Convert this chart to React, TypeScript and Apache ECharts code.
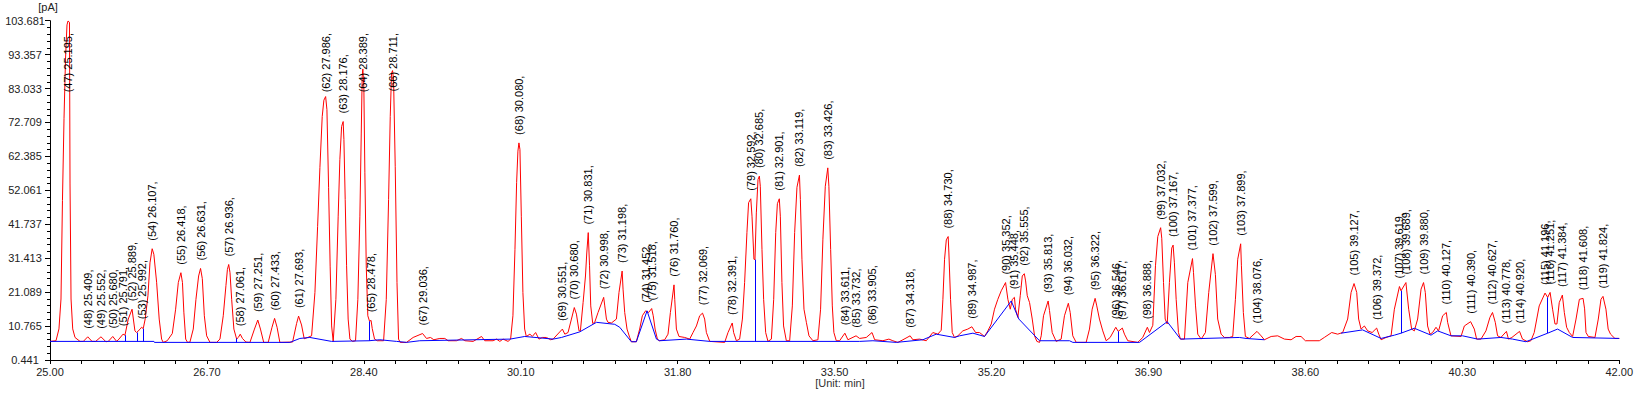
import React, { useEffect, useRef } from "react";
import * as echarts from "echarts";

// Retention time axis (min) and signal axis (pA)
const xMin = 25.0;
const xMax = 42.0;
const xInterval = 1.7;
const yMin = 0.441;
const yMax = 103.681;
const yInterval = 10.324;

// Detector trace (time, pA)
const trace: [number, number][] = [
  [25.000,6.1],[25.065,6.3],[25.097,9.9],[25.119,19],[25.135,49],[25.152,74],[25.168,92],[25.184,102.4],[25.195,103.6],[25.211,103.2],[25.217,54],[25.228,19],[25.246,9.9],[25.271,7.3],[25.325,6.1],
  [25.361,6.1],[25.409,7.5],[25.455,6.1],[25.495,6.1],[25.552,7.5],[25.606,6.0],[25.631,6.1],[25.680,7.6],[25.722,6.1],[25.747,6.8],[25.791,8.3],[25.812,8.0],[25.848,12.9],[25.889,15.9],[25.920,9.3],[25.938,8.8],[25.975,9.8],[25.992,10.4],[26.010,10.0],[26.032,13.0],[26.061,20.0],[26.083,30.0],[26.107,34.3],[26.125,32.6],[26.155,24.1],[26.183,12.9],[26.209,6.8],[26.227,5.8],
  [26.270,6.3],[26.325,8.5],[26.361,15.9],[26.390,24.0],[26.418,27.0],[26.435,24.0],[26.450,15.0],[26.470,6.8],[26.490,5.8],
  [26.516,5.9],[26.552,9.85],[26.581,18.9],[26.610,26.0],[26.631,28.3],[26.650,25.2],[26.672,13.9],[26.697,7.8],[26.733,5.8],
  [26.805,5.8],[26.841,6.8],[26.877,13.9],[26.906,23.1],[26.922,28.0],[26.936,29.5],[26.950,27.0],[26.968,18.9],[26.992,9.85],[27.022,6.8],[27.040,7.3],[27.061,8.3],[27.085,7.0],[27.122,5.9],
  [27.166,5.8],[27.215,9.85],[27.251,12.6],[27.280,9.85],[27.315,5.8],
  [27.364,5.8],[27.405,10.4],[27.433,13.1],[27.460,10.4],[27.490,5.8],
  [27.628,5.9],[27.671,11.5],[27.693,13.8],[27.725,11.1],[27.754,6.9],[27.800,7.4],
  [27.834,7.8],[27.870,21],[27.899,41],[27.924,59],[27.949,74.5],[27.967,79.5],[27.986,80.6],[28.000,76.6],[28.018,53],[28.035,29],[28.051,10.8],[28.068,6.1],
  [28.097,18.9],[28.122,44.2],[28.140,61.4],[28.159,71.5],[28.176,73.0],[28.184,67.5],[28.198,49.3],[28.213,29.1],[28.230,12.9],[28.249,6.8],[28.278,6.1],
  [28.310,6.3],[28.335,18.9],[28.357,44.2],[28.372,69.5],[28.382,86.7],[28.389,89.0],[28.400,83.7],[28.411,57.4],[28.426,29.1],[28.443,13.9],[28.462,12.2],[28.478,12.5],[28.491,10.0],[28.516,6.8],[28.545,6.3],
  [28.614,6.3],[28.643,18.9],[28.668,49.3],[28.686,74.5],[28.700,87.7],[28.711,88.5],[28.722,85.7],[28.740,59.4],[28.759,24.0],[28.776,6.8],[28.794,5.8],
  [28.862,5.8],[28.934,7.3],[29.036,8.5],[29.079,7.0],[29.122,7.3],[29.158,6.6],[29.223,7.0],[29.277,7.0],[29.313,6.3],[29.404,6.3],[29.458,7.0],[29.494,6.3],[29.584,6.1],[29.675,7.6],[29.710,6.3],[29.800,6.3],[29.837,6.8],[29.873,6.1],[29.908,6.8],[29.962,6.1],
  [29.990,6.8],[30.015,13.9],[30.037,34.1],[30.055,54.4],[30.069,64.0],[30.080,66.5],[30.091,64.5],[30.106,44.2],[30.123,21.0],[30.142,9.85],[30.160,7.6],[30.199,8.3],[30.225,7.6],[30.261,8.8],[30.297,6.8],[30.334,7.3],[30.378,7.3],[30.424,6.6],[30.450,6.8],
  [30.551,9.85],[30.577,8.3],[30.612,8.8],[30.649,12.9],[30.680,16.4],[30.703,14.4],[30.731,9.3],[30.746,9.3],[30.775,17.9],[30.801,26.0],[30.815,33],[30.831,39.2],[30.845,29.1],[30.858,16.9],[30.880,11.5],[30.901,11.9],[30.937,14.9],[30.998,19.5],[31.010,16.9],[31.028,12.9],[31.045,11.9],[31.082,11.7],[31.136,12.9],[31.164,21],[31.198,27.5],[31.208,22],[31.226,14.9],[31.251,9.85],[31.280,7.3],[31.298,6.0],[31.352,6.0],[31.388,9.85],[31.417,13.9],[31.452,15.4],[31.485,14.9],[31.518,16.1],[31.535,13.9],[31.555,9.85],[31.580,6.8],[31.600,6.3],
  [31.659,6.6],[31.695,8.3],[31.721,14.9],[31.760,23.3],[31.768,18.9],[31.786,9.85],[31.814,7.6],[31.876,7.3],[31.930,6.8],[31.966,8.8],[32.003,10.8],[32.038,13.9],[32.069,14.7],[32.092,12.9],[32.111,8.8],[32.147,6.1],[32.309,5.8],[32.345,8.8],[32.391,11.7],[32.406,8.8],[32.436,6.3],[32.471,6.8],[32.501,12.9],[32.525,24.0],[32.550,39.2],[32.568,48.3],[32.592,49.5],[32.605,44.2],[32.626,31.1],[32.637,31.0],[32.652,45.2],[32.670,55.4],[32.685,56.4],[32.695,53.3],[32.713,34.1],[32.731,18.9],[32.753,8.8],[32.778,6.1],
  [32.815,6.8],[32.840,18.9],[32.862,39.2],[32.880,48.0],[32.901,49.5],[32.912,44.2],[32.929,24.0],[32.947,10.8],[32.977,6.3],
  [33.013,6.3],[33.042,16.9],[33.067,39.2],[33.092,53.0],[33.119,56.7],[33.129,49.3],[33.146,31.1],[33.168,15.9],[33.194,11.9],[33.222,7.8],[33.265,6.3],
  [33.319,6.6],[33.348,15.9],[33.373,37.2],[33.399,53.3],[33.426,58.9],[33.438,53.3],[33.457,34.1],[33.475,16.9],[33.492,8.8],[33.518,6.3],
  [33.554,6.3],[33.611,8.6],[33.644,6.6],[33.732,7.8],[33.771,7.0],[33.843,7.3],[33.905,8.8],[33.934,6.6],[34.023,6.3],[34.088,6.8],[34.131,6.3],[34.185,5.8],[34.240,6.6],[34.318,7.8],[34.348,6.6],[34.420,6.8],[34.493,6.3],[34.564,8.8],[34.618,8.3],[34.655,9.5],[34.673,18.9],[34.691,31.1],[34.710,37.0],[34.730,38.0],[34.738,33.0],[34.756,18.9],[34.774,8.8],[34.799,7.3],[34.835,7.8],[34.889,9.3],[34.943,9.85],[34.987,10.55],[35.027,8.8],[35.070,8.8],[35.124,7.6],[35.160,9.3],[35.197,11.4],[35.232,15.9],[35.268,18.9],[35.305,21.5],[35.352,24.0],[35.377,18.9],[35.403,15.9],[35.425,18.9],[35.448,19.5],[35.460,15.9],[35.485,13.4],[35.511,20.0],[35.533,26.0],[35.555,26.7],[35.569,24.5],[35.587,20.0],[35.612,17.9],[35.641,12.9],[35.666,7.8],[35.691,6.1],[35.720,5.8],
  [35.738,7.8],[35.763,13.9],[35.813,18.4],[35.828,15.5],[35.857,8.8],[35.900,6.1],[35.954,6.8],[35.990,13.9],[36.032,17.7],[36.052,14.9],[36.080,7.8],[36.117,5.8],[36.225,5.8],[36.261,9.85],[36.290,15.9],[36.322,19.2],[36.340,16.9],[36.369,12.9],[36.405,9.3],[36.442,6.3],[36.485,7.3],[36.546,10.4],[36.572,9.15],[36.617,10.15],[36.640,8.3],[36.676,6.3],[36.784,5.8],[36.838,7.3],[36.888,10.4],[36.911,8.8],[36.947,11.0],[36.976,29.1],[37.001,38.0],[37.032,40.7],[37.044,37.5],[37.063,24.0],[37.081,12.9],[37.103,11.4],[37.127,24.0],[37.152,34.5],[37.167,35.4],[37.181,30.0],[37.200,18.9],[37.225,8.8],[37.247,6.8],[37.290,6.8],[37.326,24.0],[37.377,31.3],[37.388,27.0],[37.410,16.9],[37.434,8.3],[37.471,6.8],[37.517,8.8],[37.553,21.0],[37.599,32.8],[37.625,26.5],[37.650,12.9],[37.687,8.3],[37.723,7.3],[37.777,7.3],[37.813,7.6],[37.842,18.9],[37.867,31.1],[37.899,35.8],[37.907,29.1],[37.928,14.9],[37.950,7.6],[37.993,7.0],[38.076,9.15],[38.120,7.8],[38.156,6.6],[38.229,7.6],[38.300,7.8],[38.373,6.8],[38.445,6.6],[38.499,7.6],[38.553,7.6],[38.600,6.3],[38.751,6.3],[38.805,7.3],[38.885,8.8],[38.950,8.3],[39.004,8.8],[39.058,12.9],[39.095,21.0],[39.127,23.7],[39.156,21.0],[39.177,12.9],[39.203,9.85],[39.239,10.8],[39.275,9.3],[39.323,8.8],[39.372,10.15],[39.395,8.3],[39.420,6.6],[39.474,7.3],[39.528,7.8],[39.564,15.9],[39.619,22.8],[39.636,21.5],[39.689,24.0],[39.719,15.9],[39.751,9.85],[39.780,9.3],[39.816,12.9],[39.853,22.0],[39.880,24.0],[39.899,21.0],[39.924,10.8],[39.950,8.3],[39.978,8.8],[40.015,10.4],[40.043,9.3],[40.087,13.9],[40.127,14.9],[40.141,11.9],[40.177,7.8],[40.286,7.6],[40.322,10.8],[40.390,12.1],[40.430,9.85],[40.455,6.8],[40.502,6.8],[40.556,9.3],[40.599,13.4],[40.627,14.9],[40.657,11.9],[40.682,7.8],[40.718,7.3],[40.778,9.15],[40.800,6.8],[40.837,7.3],[40.920,9.15],[40.952,6.8],[41.007,6.0],[41.043,6.3],[41.079,8.8],[41.133,16.9],[41.196,20.8],[41.225,19.5],[41.251,21.0],[41.278,15.9],[41.304,11.4],[41.325,11.4],[41.350,17.9],[41.384,20.2],[41.405,14.9],[41.430,10.4],[41.459,8.8],[41.495,7.6],[41.532,12.9],[41.568,18.9],[41.608,19.2],[41.625,16.0],[41.640,8.8],[41.665,7.6],[41.737,7.3],[41.773,12.9],[41.802,18.9],[41.824,19.8],[41.856,15.9],[41.880,9.85],[41.906,8.3],[41.953,7.0],[42.000,7.0],
];

// Integration baseline (blue), two drawn stretches
const baselineA: [number, number][] = [
  [25.000,6.1],[26.126,6.1],[26.131,5.8],[27.599,5.8],[27.707,7.0],[27.815,7.3],[28.050,6.1],[28.457,6.3],[28.573,6.6],[28.754,6.1],[28.862,5.8],[29.006,6.3],[29.984,6.8],[30.143,7.6],[30.450,6.8],[30.541,7.3],[30.739,9.0],[30.920,11.9],[31.118,11.3],[31.172,10.4],[31.298,6.0],[31.352,6.0],[31.468,15.4],[31.570,6.8],[31.605,6.3],[31.894,6.8],[32.147,6.1],[32.637,6.1],[33.771,6.1],[33.915,6.3],[34.168,5.8],[34.456,6.6],[34.601,8.3],[34.799,7.3],[34.854,7.8],[34.998,8.6],[35.124,7.6],[35.413,18.4],[35.496,12.9],[35.720,6.3],[36.045,6.3],[36.081,5.8],[36.803,5.8],[37.103,12.1],[37.247,6.8],[37.885,7.3],[37.957,7.0],[38.156,6.6],
];
const baselineB: [number, number][] = [
  [38.986,8.6],[39.220,9.6],[39.420,7.0],[39.564,8.0],[39.636,8.6],[39.780,10.1],[39.961,8.0],[40.033,9.3],[40.177,7.8],[40.303,7.8],[40.466,6.8],[40.719,7.3],[40.844,6.8],[40.989,6.0],[41.225,8.6],[41.332,9.85],[41.495,7.3],[42.000,7.0],
];

// Peak separation drop lines: time, bottom, top
const dropTimes = [25.812, 25.950, 26.010, 27.022, 28.462, 32.637, 36.578, 39.636, 41.225];
const dropBottoms = [6.1, 6.1, 6.1, 5.8, 6.3, 6.1, 5.8, 8.6, 8.6];
const dropTops = [8.0, 8.8, 10.0, 7.0, 12.2, 31.0, 9.15, 21.5, 19.5];

// Peak annotations
const peakNums = [47,48,49,50,51,52,53,54,55,56,57,58,59,60,61,62,63,64,65,66,67,68,69,70,71,72,73,74,75,76,77,78,79,80,81,82,83,84,85,86,87,88,89,90,91,92,93,94,95,96,97,98,99,100,101,102,103,104,105,106,107,108,109,110,111,112,113,114,115,116,117,118,119];
const peakTimes = [25.195,25.409,25.552,25.680,25.791,25.889,25.992,26.107,26.418,26.631,26.936,27.061,27.251,27.433,27.693,27.986,28.176,28.389,28.478,28.711,29.036,30.080,30.551,30.680,30.831,30.998,31.198,31.452,31.518,31.760,32.069,32.391,32.592,32.685,32.901,33.119,33.426,33.611,33.732,33.905,34.318,34.730,34.987,35.352,35.448,35.555,35.813,36.032,36.322,36.546,36.617,36.888,37.032,37.167,37.377,37.599,37.899,38.076,39.127,39.372,39.619,39.689,39.880,40.127,40.390,40.627,40.778,40.920,41.196,41.251,41.384,41.608,41.824];
const peakHeights = [103.6,7.5,7.5,7.6,8.3,15.9,10.4,34.3,27.0,28.3,29.5,8.3,12.6,13.1,13.8,80.6,73.0,89.0,12.5,88.5,8.5,66.5,9.85,16.4,39.2,19.5,27.5,15.4,16.1,23.3,14.7,11.7,49.5,56.4,49.5,56.7,58.9,8.6,7.8,8.8,7.8,38.0,10.55,24.0,19.5,26.7,18.4,17.7,19.2,10.4,10.15,10.4,40.7,35.4,31.3,32.8,35.8,9.15,23.7,10.15,22.8,24.0,24.0,14.9,12.1,14.9,9.15,9.15,20.8,21.0,20.2,19.2,19.8];

const FONT_FAMILY = 'Arial, "Liberation Sans", sans-serif';
const LABEL_FONT = `11px ${FONT_FAMILY}`;

let measureCtx: CanvasRenderingContext2D | null = null;
function textWidth(s: string): number {
  if (!measureCtx) {
    const c = document.createElement("canvas");
    measureCtx = c.getContext("2d");
  }
  if (!measureCtx) return s.length * 5;
  measureCtx.font = LABEL_FONT;
  return measureCtx.measureText(s).width;
}

export default function App() {
  const ref = useRef<HTMLDivElement>(null);

  useEffect(() => {
    if (!ref.current) return;
    const chart = echarts.init(ref.current, undefined, { renderer: "svg" });

    const labelData = peakTimes.map((t, i) => [t, peakHeights[i], peakNums[i]]);

    const option: any = {
      animation: false,
      backgroundColor: "#ffffff",
      grid: { left: 50, right: 16, top: 20.7, bottom: 35, containLabel: false },
      xAxis: {
        type: "value",
        min: xMin,
        max: xMax,
        interval: xInterval,
        axisLine: { show: true, onZero: false, lineStyle: { color: "#000", width: 1 } },
        axisTick: { show: true, length: 4, lineStyle: { color: "#000" } },
        minorTick: { show: true, splitNumber: 5, length: 4, lineStyle: { color: "#000" } },
        splitLine: { show: false },
        minorSplitLine: { show: false },
        axisLabel: {
          formatter: (v: number) => v.toFixed(2),
          fontSize: 11,
          fontFamily: FONT_FAMILY,
          color: "#222",
          margin: 6,
        },
      },
      yAxis: {
        type: "value",
        min: yMin,
        max: yMax,
        interval: yInterval,
        axisLine: { show: true, onZero: false, lineStyle: { color: "#000", width: 1 } },
        axisTick: { show: true, length: 5, lineStyle: { color: "#000" } },
        minorTick: { show: true, splitNumber: 5, length: 3, lineStyle: { color: "#000" } },
        splitLine: { show: false },
        minorSplitLine: { show: false },
        axisLabel: {
          formatter: (v: number) => v.toFixed(3),
          fontSize: 11,
          fontFamily: FONT_FAMILY,
          color: "#222",
          align: "center",
          margin: 25,
        },
      },
      graphic: [
        {
          type: "text",
          x: 48,
          y: 7,
          style: { text: "[pA]", fill: "#222", font: LABEL_FONT, align: "center", verticalAlign: "middle" },
        },
        {
          type: "text",
          x: 840,
          y: 383,
          style: { text: "[Unit: min]", fill: "#333", font: LABEL_FONT, align: "center", verticalAlign: "middle" },
        },
      ],
      series: [
        {
          type: "line",
          name: "signal",
          data: trace,
          symbol: "none",
          showSymbol: false,
          lineStyle: { color: "#ff0000", width: 1 },
          itemStyle: { color: "#ff0000" },
          z: 2,
          silent: true,
        },
        {
          type: "line",
          name: "baselineA",
          data: baselineA,
          symbol: "none",
          showSymbol: false,
          lineStyle: { color: "#0000ff", width: 1 },
          itemStyle: { color: "#0000ff" },
          z: 3,
          silent: true,
          markLine: {
            silent: true,
            symbol: "none",
            animation: false,
            label: { show: false },
            lineStyle: { color: "#0000ff", width: 1, type: "solid" },
            emphasis: { disabled: true },
            data: dropTimes.map((t, i) => [
              { coord: [t, dropBottoms[i]] },
              { coord: [t, dropTops[i]] },
            ]),
          },
        },
        {
          type: "line",
          name: "baselineB",
          data: baselineB,
          symbol: "none",
          showSymbol: false,
          lineStyle: { color: "#0000ff", width: 1 },
          itemStyle: { color: "#0000ff" },
          z: 3,
          silent: true,
        },
        {
          type: "custom",
          name: "peakLabels",
          data: labelData,
          encode: { x: 0, y: 1 },
          z: 4,
          silent: true,
          renderItem: (params: any, api: any) => {
            const t = api.value(0) as number;
            const h = api.value(1) as number;
            const n = api.value(2) as number;
            const p = api.coord([t, h]);
            const text = `(${n}) ${t.toFixed(3)},`;
            const w = textWidth(text);
            let y = p[1] - 8;
            let align = "left";
            if (y - w < 33) {
              y = 33;
              align = "right";
            }
            return {
              type: "text",
              x: p[0],
              y,
              rotation: Math.PI / 2,
              style: {
                text,
                fill: "#000",
                font: LABEL_FONT,
                align,
                verticalAlign: "middle",
              },
            };
          },
        },
      ],
    };

    chart.setOption(option);
    return () => {
      chart.dispose();
    };
  }, []);

  return (
    <div
      ref={ref}
      style={{ position: "fixed", left: 0, top: 0, width: 1636, height: 395, background: "#fff" }}
    />
  );
}
